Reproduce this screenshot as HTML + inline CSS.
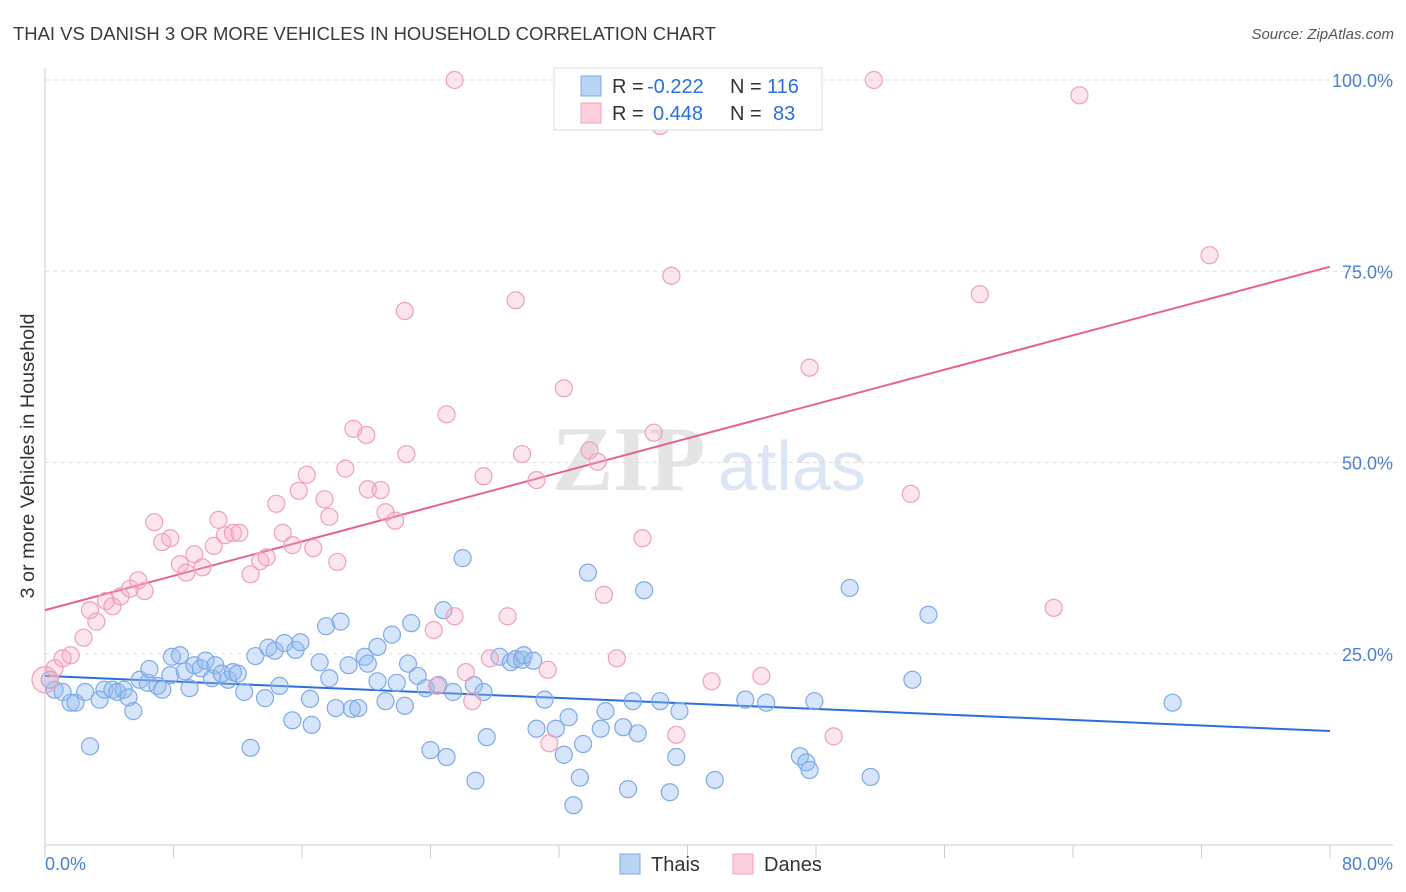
<!DOCTYPE html>
<html><head><meta charset="utf-8"><style>
body{margin:0;background:#fff;font-family:"Liberation Sans",sans-serif}
svg{display:block}
</style></head><body>
<svg id="chart" width="1406" height="892" xmlns="http://www.w3.org/2000/svg" font-family="Liberation Sans, sans-serif">
<text x="13" y="40" font-size="18" fill="#3a3a3a" textLength="703" lengthAdjust="spacingAndGlyphs">THAI VS DANISH 3 OR MORE VEHICLES IN HOUSEHOLD CORRELATION CHART</text>
<text x="1394" y="39" font-size="15" fill="#555" font-style="italic" text-anchor="end">Source: ZipAtlas.com</text>
<text transform="translate(34,456) rotate(-90)" font-size="19" fill="#333" text-anchor="middle" textLength="285" lengthAdjust="spacingAndGlyphs">3 or more Vehicles in Household</text>
<g>
<text x="552" y="490" font-size="92" fill="#e4e4e4" font-family="Liberation Serif, serif" font-weight="bold">ZIP</text>
<text x="718" y="490" font-size="70" fill="#dbe6f5">atlas</text>
</g>
<g id="grid"></g><g id="axes"></g><g id="lines"></g><g id="pts"></g>
<g>
<rect x="554" y="68" width="268" height="62" fill="#fff" stroke="#ddd"/>
<rect x="581" y="76" width="20" height="20" fill="#b9d3f5" stroke="#7eaae8"/>
<rect x="581" y="103" width="20" height="20" fill="#fbcfdc" stroke="#f0a0b8"/>
<text x="612" y="93" font-size="20" fill="#333">R =</text>
<text x="647" y="93" font-size="20" fill="#2a6fdb">-0.222</text>
<text x="730" y="93" font-size="20" fill="#333">N =</text>
<text x="767" y="93" font-size="20" fill="#2a6fdb">116</text>
<text x="612" y="120" font-size="20" fill="#333">R =</text>
<text x="653" y="120" font-size="20" fill="#2a6fdb">0.448</text>
<text x="730" y="120" font-size="20" fill="#333">N =</text>
<text x="773" y="120" font-size="20" fill="#2a6fdb">83</text>
</g>
<g>
<rect x="620" y="854" width="20" height="20" fill="#b9d3f5" stroke="#7eaae8"/>
<text x="651" y="871" font-size="20" fill="#333">Thais</text>
<rect x="733" y="854" width="20" height="20" fill="#fbcfdc" stroke="#f0a0b8"/>
<text x="764" y="871" font-size="20" fill="#333">Danes</text>
</g>
</svg>
<script>
const thaiX=[0.3,0.6,1.1,1.6,1.9,2.5,2.8,3.4,3.7,4.2,4.5,4.9,5.2,5.5,5.9,6.4,6.5,7.0,7.3,7.8,7.9,8.4,8.7,9.0,9.3,9.7,10.0,10.4,10.6,11.0,11.4,11.7,12.0,12.4,12.8,13.1,13.7,13.9,14.3,14.6,14.9,15.6,15.9,15.4,16.5,16.6,17.1,17.5,17.7,18.1,18.4,18.9,19.1,19.5,19.9,20.1,20.7,20.7,21.2,21.6,21.9,22.4,22.6,22.8,23.2,23.7,24.0,24.5,24.8,25.0,25.4,26.0,26.7,26.8,27.3,27.5,28.3,29.0,29.3,29.7,29.8,30.4,30.6,31.1,31.8,32.3,32.6,32.9,33.3,33.5,33.8,34.6,34.9,36.0,36.3,36.6,36.9,37.3,38.3,38.9,39.3,39.5,41.7,43.6,44.9,47.0,47.4,47.6,47.9,50.1,51.4,54.0,55.0,70.2];
const thaiY=[21.6,20.3,20.0,18.6,18.6,20.0,12.9,19.0,20.3,20.3,20.0,20.3,19.3,17.5,21.6,21.2,23.0,20.8,20.3,22.2,24.6,24.8,22.7,20.5,23.5,23.1,24.1,21.8,23.5,22.4,21.6,22.6,22.4,20.0,12.7,24.7,19.2,25.8,25.4,20.8,26.4,25.5,26.5,16.3,19.1,15.7,23.9,28.6,21.8,17.9,29.2,23.5,17.8,17.9,24.6,23.7,25.9,21.4,18.8,27.5,21.2,18.2,23.7,29.0,22.1,20.5,12.4,20.9,30.7,11.5,20.0,37.5,20.9,8.4,20.0,14.1,24.6,23.9,24.3,24.2,24.8,24.1,15.2,19.0,15.2,11.8,16.7,5.2,8.8,13.2,35.6,15.2,17.5,15.4,7.3,18.8,14.6,33.3,18.8,6.9,11.5,17.5,8.5,19.0,18.6,11.6,10.8,9.8,18.8,33.6,8.9,21.6,30.1,18.6];
const daneX=[0.0,0.6,1.1,1.6,2.4,2.8,3.2,3.8,4.2,4.7,5.3,5.8,6.2,6.8,7.3,7.8,8.4,8.8,9.3,9.8,10.5,10.8,11.2,11.7,12.1,12.8,13.4,13.8,14.4,14.8,15.4,15.8,16.3,16.7,17.4,17.7,18.2,18.7,19.2,20.0,20.1,20.9,21.2,21.8,22.5,22.4,24.2,24.4,25.0,25.5,25.5,26.2,26.6,27.3,27.7,28.8,29.3,29.7,30.6,31.4,31.3,32.3,33.9,34.4,34.8,35.6,37.2,37.9,38.3,39.0,39.3,41.5,44.5,44.6,47.6,49.1,51.6,53.9,58.2,62.8,64.4,72.5];
const daneY=[21.6,23.1,24.4,24.8,27.1,30.7,29.2,31.9,31.2,32.5,33.5,34.6,33.2,42.2,39.6,40.1,36.7,35.6,38.0,36.3,39.1,42.5,40.5,40.8,40.8,35.4,37.1,37.6,44.6,40.8,39.2,46.3,48.4,38.8,45.2,42.9,37.0,49.2,54.4,53.6,46.5,46.4,43.5,42.4,51.1,69.8,28.1,20.8,56.3,29.9,100.0,22.6,18.8,48.2,24.4,29.9,71.2,51.1,47.7,13.3,22.9,59.7,51.6,50.1,32.7,24.4,40.1,53.9,94.0,74.4,14.4,21.4,100.0,22.1,62.4,14.2,100.0,45.9,72.0,31.0,98.0,77.1];
const thaiTrend=[22.1,14.9];
const daneTrend=[30.7,75.6];
const yTicks=[25,50,75,100];
const yTickLabels=["25.0%","50.0%","75.0%","100.0%"];
const xTicks=[0,8,16,24,32,40,48,56,64,72,80];

const NS="http://www.w3.org/2000/svg";
const X=v=>45+v/80*1285, Y=v=>845-v*7.65;
function mk(parent,tag,attrs){const e=document.createElementNS(NS,tag);for(const k in attrs)e.setAttribute(k,attrs[k]);document.getElementById(parent).appendChild(e);return e;}
yTicks.forEach((t,i)=>{
  const g=mk('grid','line',{x1:45,x2:1393,y1:Y(t),y2:Y(t),stroke:'#ddd','stroke-dasharray':'4,4'});
  
  
  const l=mk('axes','text',{x:1393,y:Y(t)+7,'font-size':18,fill:'#4a7fd6','text-anchor':'end'});
  l.textContent=yTickLabels[i];
  
  
});
const ax=mk('axes','line',{x1:45,x2:1393,y1:845,y2:845,stroke:'#ccc'});


const ay=mk('axes','line',{x1:45,x2:45,y1:68,y2:845,stroke:'#ccc'});


xTicks.forEach(t=>{
  const k=mk('axes','line',{x1:X(t),x2:X(t),y1:845,y2:858,stroke:'#ccc'});
  
  
});
const x0=mk('axes','text',{x:45,y:870,'font-size':18,fill:'#4a7fd6'});x0.textContent="0.0%";


const x1=mk('axes','text',{x:1393,y:870,'font-size':18,fill:'#4a7fd6','text-anchor':'end'});x1.textContent="80.0%";


function pts(xs,ys,fill,stroke,name){
  xs.forEach((x,i)=>{
    const c=mk('pts','circle',{cx:X(x),cy:Y(ys[i]),r:(name==='dane-point'&&i===0)?13:8.5,fill:fill,stroke:stroke,'stroke-width':1.2});
    
    
  });
}
pts(thaiX,thaiY,'rgba(147,187,238,0.38)','#7eaae8','thai-point');
pts(daneX,daneY,'rgba(245,170,195,0.3)','#f0a0b8','dane-point');
const tl=mk('lines','line',{x1:X(0),y1:Y(thaiTrend[0]),x2:X(80),y2:Y(thaiTrend[1]),stroke:'#2a6fdb','stroke-width':2});


const dl=mk('lines','line',{x1:X(0),y1:Y(daneTrend[0]),x2:X(80),y2:Y(daneTrend[1]),stroke:'#e8628e','stroke-width':2});


</script>
</body></html>
